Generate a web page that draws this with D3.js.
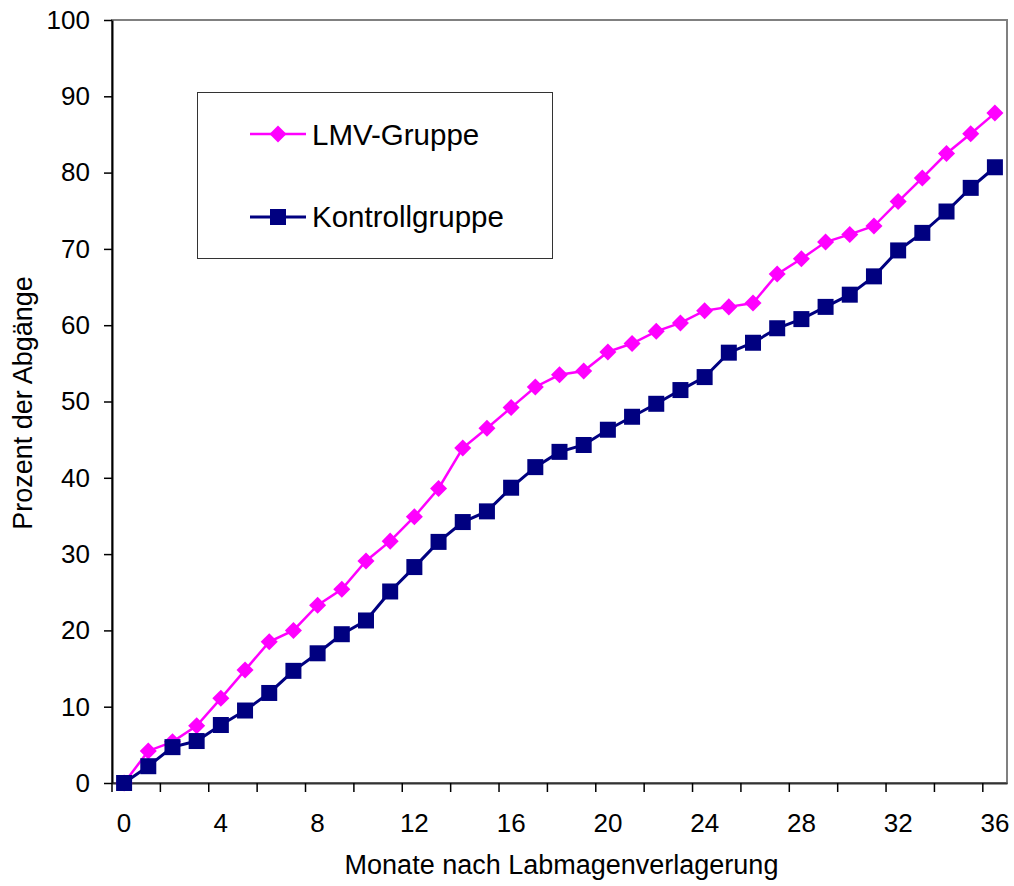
<!DOCTYPE html>
<html>
<head>
<meta charset="utf-8">
<script src="https://cdn.jsdelivr.net/npm/d3@7"></script>
<style>
  body { margin: 0; background: #fff; }
  svg text { font-family: "Liberation Sans", Arial, sans-serif; fill: #000; }
</style>
</head>
<body>
<svg id="chart" width="1014" height="886"></svg>
<script>
// months after displacement (categories)
let months = [0,1,2,3,4,5,6,7,8,9,10,11,12,13,14,15,16,17,18,19,20,21,22,23,24,25,26,27,28,29,30,31,32,33,34,35,36];

// percent of departures
let lmvGruppe = [0,4.2,5.4,7.5,11.1,14.8,18.5,20.0,23.3,25.4,29.1,31.7,34.9,38.6,43.9,46.5,49.2,51.9,53.5,54.0,
  56.5,57.6,59.2,60.3,61.9,62.4,62.9,66.7,68.7,70.9,71.9,73.0,76.2,79.3,82.5,85.1,87.8];
let kontrollgruppe = [0,2.2,4.7,5.5,7.6,9.5,11.8,14.7,17.0,19.5,21.3,25.1,28.3,31.6,34.2,35.6,38.7,41.4,43.4,44.3,
  46.3,48.0,49.7,51.5,53.2,56.4,57.7,59.6,60.8,62.4,64.0,66.4,69.8,72.1,74.9,78.0,80.7];

let yTicks = [0,10,20,30,40,50,60,70,80,90,100];
let xLabels = [0,4,8,12,16,20,24,28,32,36];
let xTickMarks = [0,2,4,6,8,10,12,14,16,18,20,22,24,26,28,30,32,34,36];

let margin = {top: 20, right: 7, bottom: 103, left: 112},
    width = 1014 - margin.left - margin.right,
    height = 886 - margin.top - margin.bottom;

let svg = d3.select("#chart")
  .append("g")
    .attr("transform", "translate(" + margin.left + "," + margin.top + ")");

let x = d3.scaleBand()
  .domain(months)
  .range([0, width]);
let bw = x.bandwidth();

let y = d3.scaleLinear()
  .domain([0, 100])
  .range([height, 0]);

// plot area border (gray)
svg.append("rect")
  .attr("x", 0).attr("y", 0)
  .attr("width", width).attr("height", height)
  .attr("fill", "none")
  .attr("stroke", "#808080")
  .attr("stroke-width", 2);

// Y axis
let yAxis = svg.append("g")
  .call(d3.axisLeft(y).tickValues(yTicks).tickSize(8).tickPadding(14).tickSizeOuter(0));
yAxis.selectAll("text").style("font-size", "26px");
yAxis.selectAll("line").attr("stroke", "#000").attr("stroke-width", 1.5);
yAxis.select(".domain").attr("stroke", "#000").attr("stroke-width", 2);

// X axis labels at category centers
let xAxis = svg.append("g")
  .attr("transform", "translate(0," + height + ")")
  .call(d3.axisBottom(x).tickValues(xLabels).tickSize(0).tickPadding(31).tickSizeOuter(0));
xAxis.selectAll("text").style("font-size", "26px");
xAxis.select(".domain").attr("stroke", "#333").attr("stroke-width", 2);

// X tick marks between categories
svg.append("g")
  .selectAll("line")
  .data(xTickMarks)
  .enter()
  .append("line")
    .attr("x1", function(d) { return x(d); })
    .attr("x2", function(d) { return x(d); })
    .attr("y1", height)
    .attr("y2", height + 9)
    .attr("stroke", "#000")
    .attr("stroke-width", 1.5);

// axis titles
svg.append("text")
  .attr("x", width / 2 + 2)
  .attr("y", height + 91)
  .attr("text-anchor", "middle")
  .style("font-size", "27px")
  .text("Monate nach Labmagenverlagerung");

svg.append("text")
  .attr("transform", "translate(" + (-80) + "," + 383 + ") rotate(-90)")
  .attr("text-anchor", "middle")
  .style("font-size", "27px")
  .text("Prozent der Abgänge");

let line = d3.line()
  .x(function(d, i) { return x(months[i]) + bw / 2; })
  .y(function(d) { return y(d); });

let diamond = d3.symbol().type(d3.symbolDiamond2).size(185);

function drawSeries(data, color, lineWidth, marker) {
  svg.append("path")
    .datum(data)
    .attr("fill", "none")
    .attr("stroke", color)
    .attr("stroke-width", lineWidth)
    .attr("d", line);

  if (marker == "diamond") {
    svg.append("g").selectAll("path")
      .data(data)
      .enter()
      .append("path")
        .attr("d", diamond)
        .attr("transform", function(d, i) { return "translate(" + (x(months[i]) + bw / 2) + "," + y(d) + ")"; })
        .attr("fill", color);
  } else {
    svg.append("g").selectAll("rect")
      .data(data)
      .enter()
      .append("rect")
        .attr("x", function(d, i) { return x(months[i]) + bw / 2 - 8; })
        .attr("y", function(d) { return y(d) - 8; })
        .attr("width", 16)
        .attr("height", 16)
        .attr("fill", color);
  }
}

drawSeries(lmvGruppe, "#FF00FF", 2.5, "diamond");
drawSeries(kontrollgruppe, "#000080", 3, "square");

// legend
let legend = svg.append("g").attr("transform", "translate(85,72)");
legend.append("rect")
  .attr("x", 0.5).attr("y", 0.5)
  .attr("width", 355).attr("height", 166)
  .attr("fill", "#fff")
  .attr("stroke", "#333")
  .attr("stroke-width", 1);

legend.append("line")
  .attr("x1", 53).attr("x2", 109).attr("y1", 42).attr("y2", 42)
  .attr("stroke", "#FF00FF").attr("stroke-width", 2.5);
legend.append("path")
  .attr("d", diamond)
  .attr("transform", "translate(81,42)")
  .attr("fill", "#FF00FF");
legend.append("text")
  .attr("x", 115).attr("y", 53)
  .style("font-size", "29.5px")
  .text("LMV-Gruppe");

legend.append("line")
  .attr("x1", 53).attr("x2", 109).attr("y1", 125).attr("y2", 125)
  .attr("stroke", "#000080").attr("stroke-width", 3);
legend.append("rect")
  .attr("x", 73).attr("y", 117).attr("width", 16).attr("height", 16)
  .attr("fill", "#000080");
legend.append("text")
  .attr("x", 115).attr("y", 135)
  .style("font-size", "29.5px")
  .text("Kontrollgruppe");
</script>
</body>
</html>
